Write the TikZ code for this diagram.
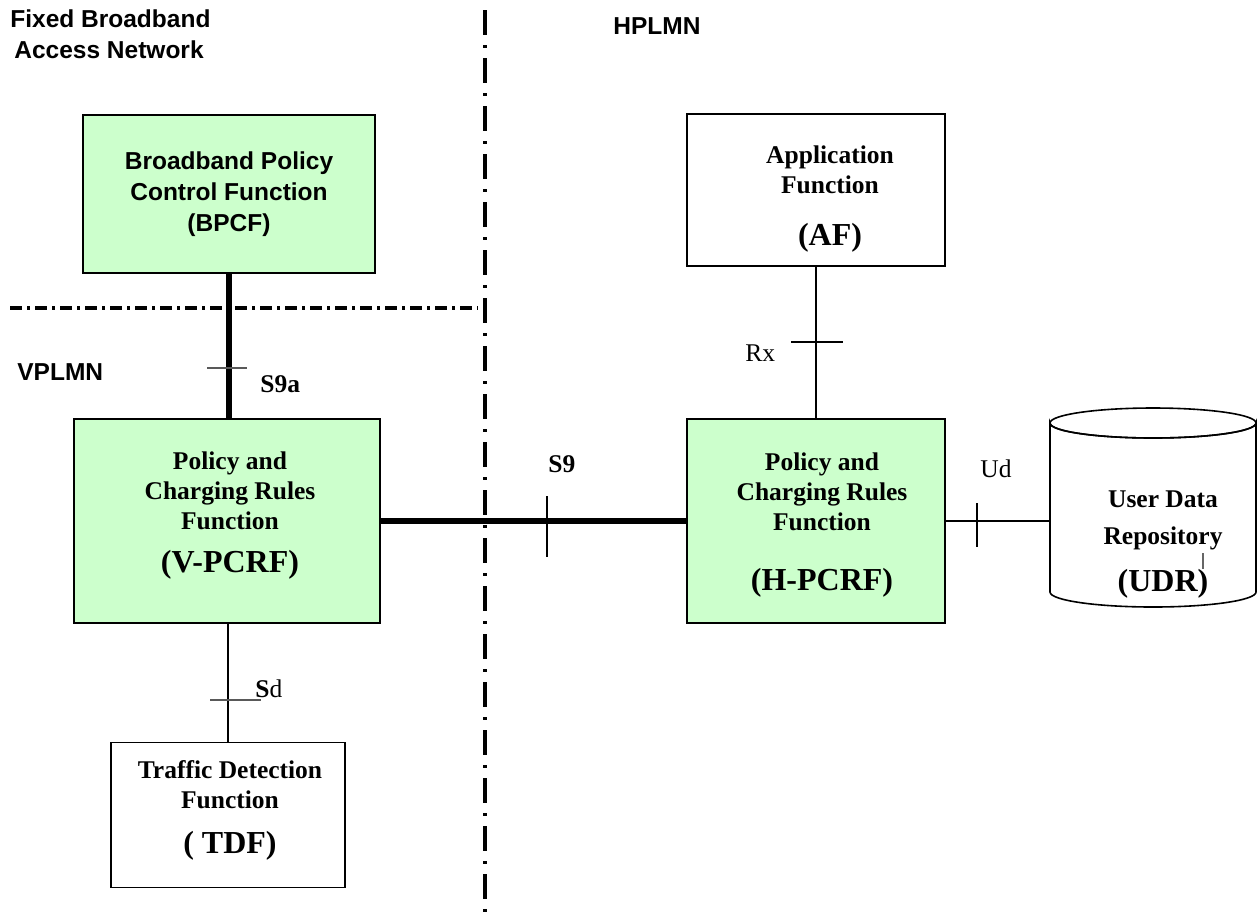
\documentclass[tikz,border=0pt]{standalone}
\usepackage{fontspec}
\setmainfont{Liberation Serif}
\setsansfont{Liberation Sans}
\newcommand*{\acr}[1]{{\fontsize{16}{19}\selectfont #1}}
\usetikzlibrary{positioning}
\tikzset{>=stealth}
\definecolor{pcrfgreen}{HTML}{CCFFCC}

\begin{document}
\begin{tikzpicture}[x=.5pt,y=-.5pt,
  box/.style={draw,line width=.8pt,inner sep=0pt},
  greenbox/.style={box,fill=pcrfgreen},
  boxtext/.style={inner sep=0pt,align=center,font=\fontsize{12.75}{15}\selectfont\bfseries},
  area/.style={inner sep=0pt,anchor=base west,font=\sffamily\bfseries\fontsize{12.25}{15}\selectfont},
  iface/.style={inner sep=0pt,anchor=base west,font=\fontsize{12.75}{15}\selectfont},
  ifaceb/.style={iface,font=\fontsize{12.75}{15}\selectfont\bfseries},
  border/.style={line width=2pt,dash pattern=on 12.5pt off 5pt on 1.5pt off 5pt},
  thickline/.style={line width=2.6pt},
  thinline/.style={line width=.7pt},
  tick/.style={line width=.6pt}]
\useasboundingbox (0,0) rectangle (1258,917);

% domain borders
\draw[border] (485,10) -- (485,917);
\draw[border,line width=2.2pt,dash pattern=on 6pt off 2.5pt on 1.5pt off 2.5pt] (10,308) -- (478,308);

\node[area] (fixed) at (10,27) {Fixed Broadband};
\node[area] (access) at (14,58) {Access Network};
\node[area] (hplmn) at (613,34) {HPLMN};
\node[area] (vplmn) at (17,380) {VPLMN};

% functions
\node[greenbox,minimum width=146pt,minimum height=79pt,align=center,
  font=\sffamily\bfseries\fontsize{12.25}{15.5}\selectfont] (bpcf) at (229,194)
  {Broadband Policy\\Control Function\\(BPCF)};
\node[greenbox,minimum width=153pt,minimum height=102pt] (vpcrf) at (227,521) {};
\node[greenbox,minimum width=129pt,minimum height=102pt] (hpcrf) at (816,521) {};
\node[box,minimum width=129pt,minimum height=76pt] (af) at (816,190) {};
\node[box,minimum width=117pt,minimum height=72.5pt] (tdf) at (228,815) {};

% repository drum
\node[inner sep=0pt,minimum width=103pt,minimum height=99.5pt] (udr) at (1153,507) {};
\draw[line width=.8pt,fill=white] (1050,423) -- (1050,592)
  arc[start angle=180,end angle=0,x radius=103,y radius=15] -- (1256,423)
  arc[start angle=0,end angle=180,x radius=103,y radius=15] -- cycle;
\draw[line width=.8pt] (1153,423) ellipse[x radius=103,y radius=15];

\node[boxtext] (vpcrf-t) at (230,516) {Policy and\\Charging Rules\\Function\\[6.5pt]\acr{(V-PCRF)}};
\node[boxtext] (hpcrf-t) at (822,525) {Policy and\\Charging Rules\\Function\\[15pt]\acr{(H-PCRF)}};
\node[boxtext] (af-t) at (830,199) {Application\\Function\\[11pt]\acr{(AF)}};
\node[boxtext] (tdf-t) at (230,810) {Traffic Detection\\Function\\[7.5pt]\acr{( TDF)}};
\node[boxtext] (udr-t) at (1163,545) {User Data\\[3.5pt]Repository\\[8.5pt]\acr{(UDR)}};
\draw[tick,black!60] (1203,553) -- (1203,569);

% reference points
\draw[thickline] (bpcf.south) -- (bpcf.south |- vpcrf.north);
\draw[thickline] (vpcrf.east) -- (hpcrf.west);
\draw[thinline] (af.south) -- (hpcrf.north);
\draw[thinline] (hpcrf.east) -- (hpcrf.east -| udr.west);
\draw[thinline] (tdf.north) -- (tdf.north |- vpcrf.south);

\coordinate (s9a-x) at (229,368);
\coordinate (s9-x) at (547,521);
\coordinate (rx-x) at (816,342);
\coordinate (ud-x) at (977,521);
\coordinate (sd-x) at (228,700);
\draw[tick,black!65] (s9a-x) +(-22,0) -- +(18,0);
\draw[tick] (s9-x) +(0,-25) -- +(0,36);
\draw[tick] (rx-x) +(-25,0) -- +(27,0);
\draw[tick] (ud-x) +(0,-18) -- +(0,26);
\draw[tick,black!65] (sd-x) +(-18,0) -- +(33,0);

\node[ifaceb] (s9a) at (260,392) {S9a};
\node[ifaceb] (s9) at (548,472) {S9};
\node[iface] (rx) at (745,361) {Rx};
\node[iface] (ud) at (980,477) {Ud};
\node[iface] (sd) at (255,697) {\textbf{S}d};
\end{tikzpicture}
\end{document}
